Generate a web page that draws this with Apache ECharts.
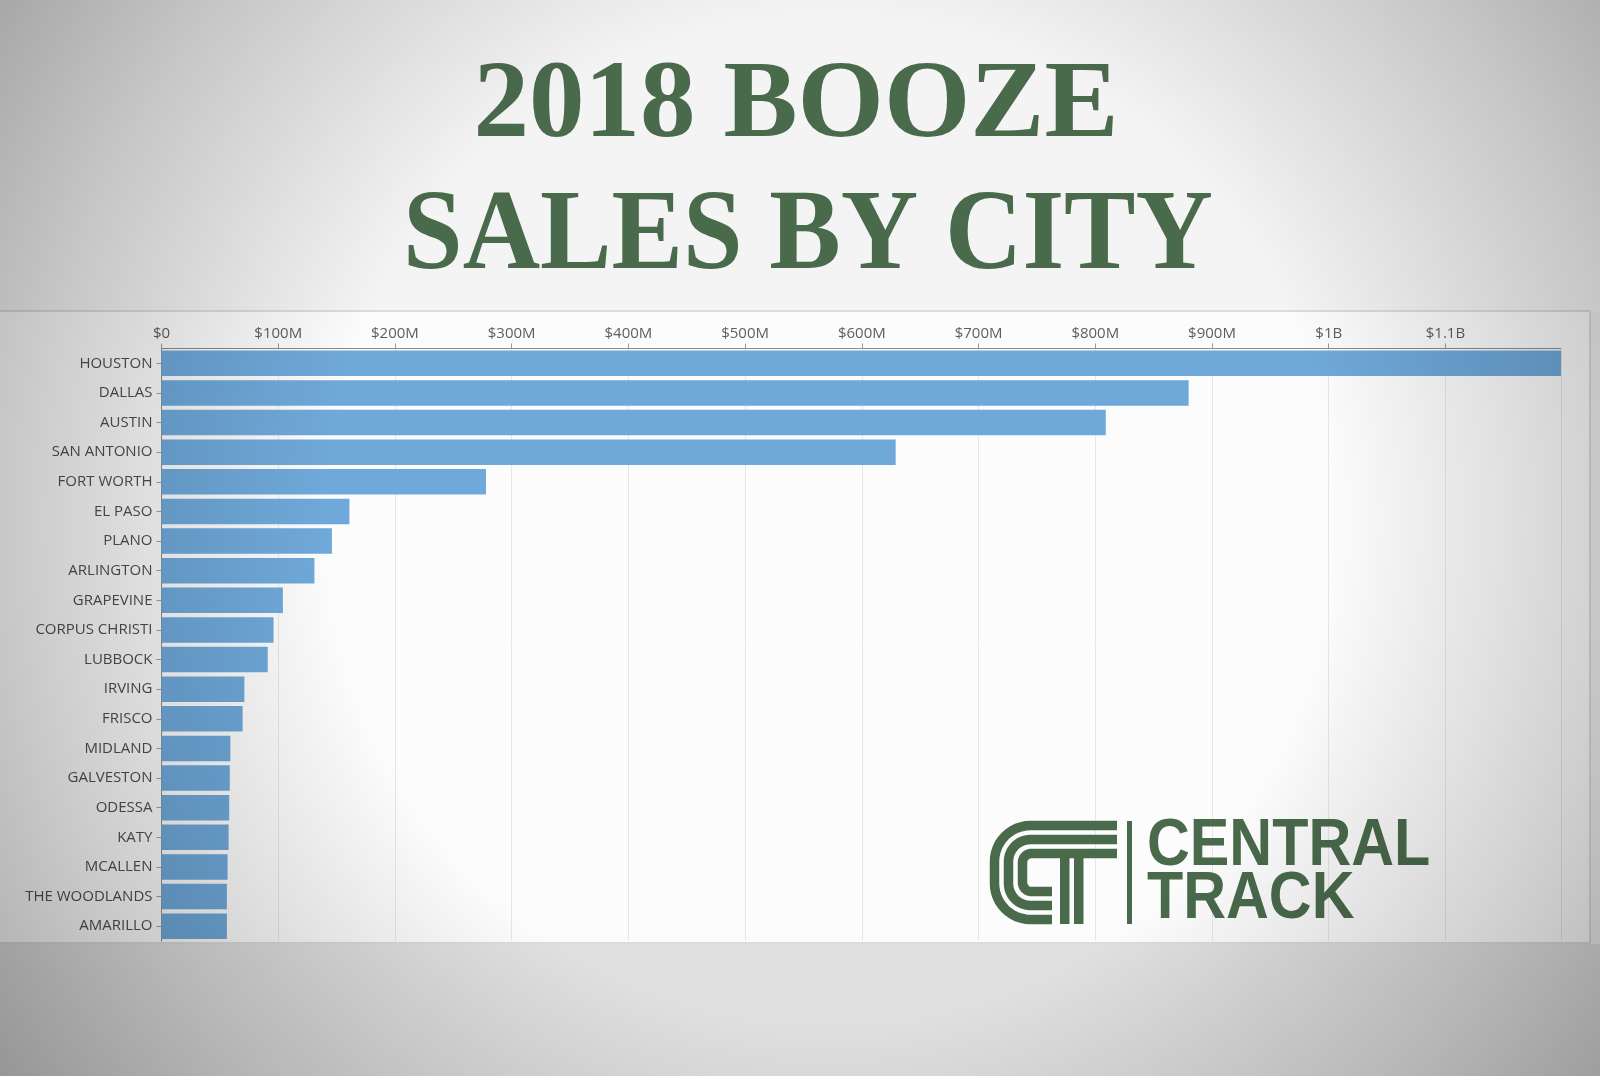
<!DOCTYPE html>
<html>
<head>
<meta charset="utf-8">
<script src="https://cdn.jsdelivr.net/npm/echarts@6/dist/echarts.min.js"></script>
<style>
html,body{margin:0;padding:0;background:#f0f0f0;}
#chart{width:1600px;height:1076px;}
</style>
</head>
<body>
<div id="chart"></div>
<script>
// ---- data (values in millions of dollars) ----
var cities = ['HOUSTON','DALLAS','AUSTIN','SAN ANTONIO','FORT WORTH','EL PASO','PLANO','ARLINGTON','GRAPEVINE','CORPUS CHRISTI','LUBBOCK','IRVING','FRISCO','MIDLAND','GALVESTON','ODESSA','KATY','MCALLEN','THE WOODLANDS','AMARILLO'];
var sales = [1199, 880, 809, 629, 278, 161, 146, 131, 104, 96, 91, 71, 69.5, 59, 58.5, 58, 57.5, 56.6, 56, 56];
var tickLabels = ['$0','$100M','$200M','$300M','$400M','$500M','$600M','$700M','$800M','$900M','$1B','$1.1B'];
var titleLines = ['2018 BOOZE', 'SALES BY CITY'];
var logoWords = ['CENTRAL', 'TRACK'];

var green = '#4a6a4c';
var chart = echarts.init(document.getElementById('chart'), null, {renderer: 'canvas'});

// logo stripe (decoration): a rounded "C" made as a polyline
function stripePoints(d, r, xb) {
  var L = 990, T = 821, B = 924, R = 1117;
  var x0 = L + d, y1 = T + d, y2 = B - d;
  var pts = [[R, y1], [x0 + r, y1]];
  var n = 12, i, a;
  for (i = 1; i <= n; i++) { a = -Math.PI / 2 - (Math.PI / 2) * i / n; pts.push([x0 + r + r * Math.cos(a), y1 + r + r * Math.sin(a)]); }
  pts.push([x0, y2 - r]);
  for (i = 1; i <= n; i++) { a = Math.PI - (Math.PI / 2) * i / n; pts.push([x0 + r + r * Math.cos(a), y2 - r + r * Math.sin(a)]); }
  pts.push([xb, y2]);
  return pts;
}

var graphics = [
  {type: 'rect', z: -20, silent: true, shape: {x: 0, y: 0, width: 1600, height: 312}, style: {fill: '#f4f4f4'}},
  {type: 'rect', z: -19, silent: true, shape: {x: -3, y: 311, width: 1593, height: 632}, style: {fill: '#fcfcfc', stroke: '#dcdcdc', lineWidth: 2}},
  {type: 'rect', z: -20, silent: true, shape: {x: 0, y: 944, width: 1600, height: 132}, style: {fill: '#e0e0e0'}},
  {type: 'text', x: 796, y: 108, scaleX: 1.01, z: 10, style: {text: titleLines[0], fill: green, font: 'bold 110px "Liberation Serif", "Times New Roman", serif', align: 'center', verticalAlign: 'middle'}},
  {type: 'text', x: 808, y: 239, scaleX: 0.94, z: 10, style: {text: titleLines[1], fill: green, font: 'bold 114px "Liberation Serif", "Times New Roman", serif', align: 'center', verticalAlign: 'middle'}},
  {type: 'polyline', z: 10, silent: true, shape: {points: stripePoints(4.5, 36, 1052)}, style: {stroke: green, lineWidth: 9.5, fill: null}},
  {type: 'polyline', z: 10, silent: true, shape: {points: stripePoints(18.5, 22, 1052)}, style: {stroke: green, lineWidth: 9.5, fill: null}},
  {type: 'polyline', z: 10, silent: true, shape: {points: stripePoints(32.5, 9, 1052)}, style: {stroke: green, lineWidth: 9.5, fill: null}},
  {type: 'rect', z: 10, silent: true, shape: {x: 1060, y: 853, width: 9.5, height: 71}, style: {fill: green}},
  {type: 'rect', z: 10, silent: true, shape: {x: 1074, y: 853, width: 9.5, height: 71}, style: {fill: green}},
  {type: 'rect', z: 10, silent: true, shape: {x: 1127, y: 821, width: 5, height: 103}, style: {fill: green}},
  {type: 'text', x: 1147, y: 847, scaleX: 0.885, z: 10, style: {text: logoWords[0], fill: green, font: 'bold 67px "Liberation Sans", Arial, sans-serif', align: 'left', verticalAlign: 'middle'}},
  {type: 'text', x: 1147, y: 900, scaleX: 0.885, z: 10, style: {text: logoWords[1], fill: green, font: 'bold 67px "Liberation Sans", Arial, sans-serif', align: 'left', verticalAlign: 'middle'}},
  {type: 'rect', z: 100, silent: true, shape: {x: 0, y: 0, width: 1600, height: 1076},
    style: {fill: {type: 'radial', x: 830, y: 520, r: 1000, global: true, colorStops: [
      {offset: 0, color: 'rgba(0,0,0,0)'},
      {offset: 0.5, color: 'rgba(0,0,0,0)'},
      {offset: 0.8, color: 'rgba(0,0,0,0.19)'},
      {offset: 1, color: 'rgba(0,0,0,0.33)'}
    ]}}}
];

var option = {
  backgroundColor: '#f0f0f0',
  animation: false,
  grid: {left: 161.5, right: 39, top: 348.5, bottom: 135, containLabel: false},
  xAxis: {
    type: 'value',
    position: 'top',
    min: 0,
    max: 'dataMax',
    interval: 100,
    axisLine: {show: true, lineStyle: {color: '#8c8c8c', width: 1}},
    axisTick: {show: true, length: 5, lineStyle: {color: '#9a9a9a'}},
    splitLine: {show: true, lineStyle: {color: '#e6e6e6', width: 1}},
    axisLabel: {
      show: true, margin: 7, color: '#5e5e5e', fontSize: 15, fontFamily: 'Open Sans',
      showMaxLabel: false,
      formatter: function (v) { var i = Math.round(v / 100); return (Math.abs(v - i * 100) < 0.01 && tickLabels[i] !== undefined) ? tickLabels[i] : ''; }
    }
  },
  yAxis: {
    type: 'category',
    data: cities,
    inverse: true,
    axisLine: {show: true, lineStyle: {color: '#8c8c8c', width: 1}},
    axisTick: {show: true, length: 5, alignWithLabel: true, lineStyle: {color: '#a0a0a0'}},
    axisLabel: {margin: 9, color: '#4f4f4f', fontSize: 15, fontFamily: 'Open Sans'},
    splitLine: {show: false}
  },
  series: [{
    type: 'bar',
    data: sales,
    barCategoryGap: '14%',
    itemStyle: {color: '#6fa9da'},
    emphasis: {disabled: true}
  }],
  graphic: {elements: graphics}
};
chart.setOption(option);
</script>
</body>
</html>
